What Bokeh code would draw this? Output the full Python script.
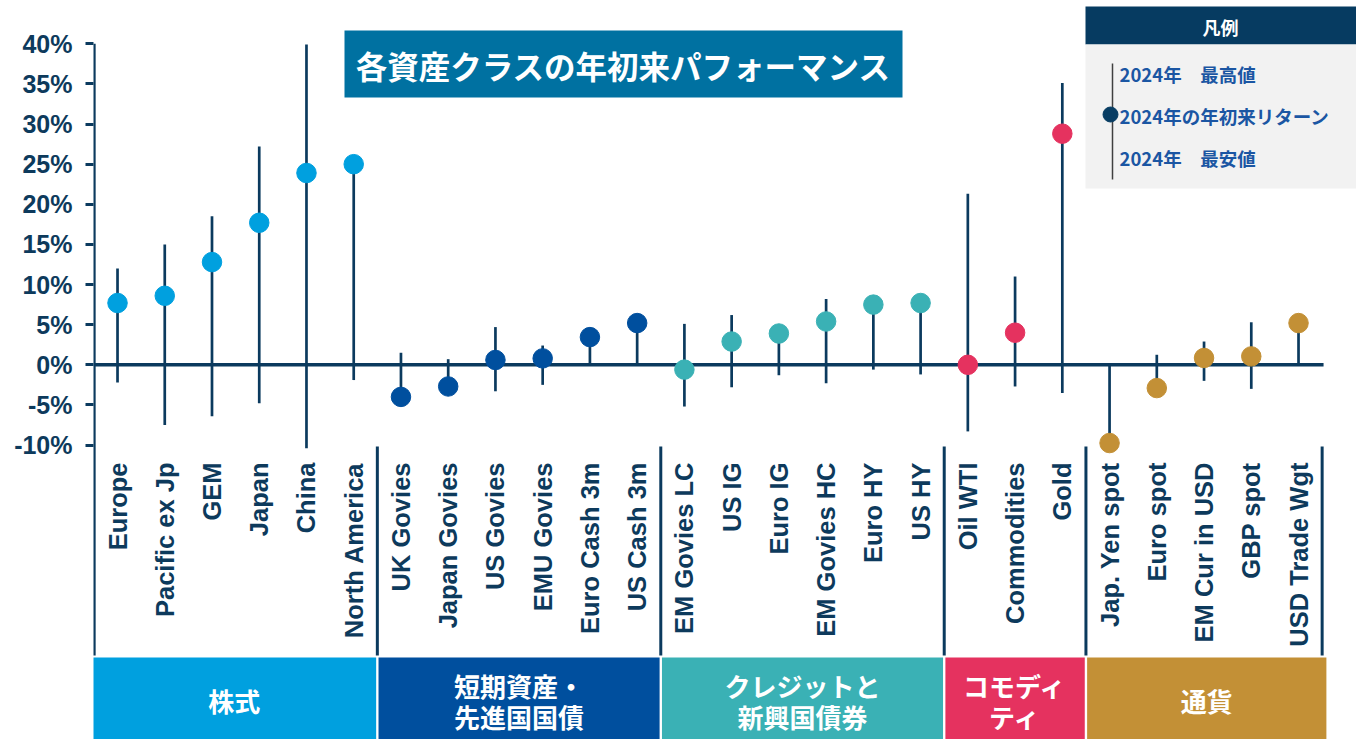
import numpy as np
from bokeh.plotting import figure
from bokeh.models import Range1d, FixedTicker, PrintfTickFormatter, ColumnDataSource
from bokeh.core.properties import value
from bokeh.embed import file_html
from bokeh.resources import INLINE

# ---------------- data ----------------
categories = ["Europe", "Pacific ex Jp", "GEM", "Japan", "China", "North America",
              "UK Govies", "Japan Govies", "US Govies", "EMU Govies", "Euro Cash 3m", "US Cash 3m",
              "EM Govies LC", "US IG", "Euro IG", "EM Govies HC", "Euro HY", "US HY",
              "Oil WTI", "Commodities", "Gold",
              "Jap. Yen spot", "Euro spot", "EM Cur in USD", "GBP spot", "USD Trade Wgt"]
ytd = [7.7, 8.6, 12.8, 17.7, 23.9, 25.0,
       -4.0, -2.7, 0.6, 0.8, 3.45, 5.2,
       -0.6, 2.9, 3.9, 5.4, 7.5, 7.7,
       0.0, 4.0, 28.8,
       -9.75, -2.9, 0.85, 1.05, 5.2]
high = [12.0, 15.0, 18.5, 27.2, 39.9, 25.0,
        1.5, 0.7, 4.7, 2.4, 3.45, 5.2,
        5.1, 6.2, 3.9, 8.2, 7.5, 7.7,
        21.3, 11.0, 35.1,
        0.2, 1.25, 2.9, 5.3, 5.2]
low = [-2.2, -7.5, -6.4, -4.8, -10.4, -1.9,
       -4.0, -2.7, -3.3, -2.5, 0.0, 0.0,
       -5.2, -2.8, -1.3, -2.3, -0.6, -1.2,
       -8.3, -2.7, -3.5,
       -9.75, -2.9, -2.0, -3.0, 0.0]
group_names = ["株式", "短期資産・\n先進国国債", "クレジットと\n新興国債券", "コモディ\nティ", "通貨"]
group_sizes = [6, 6, 6, 3, 5]
group_colors = ["#00A0DF", "#004F9E", "#3AB1B5", "#E5325F", "#C39036"]
y_ticks = [-10, -5, 0, 5, 10, 15, 20, 25, 30, 35, 40]
title_text = "各資産クラスの年初来パフォーマンス"
legend_title = "凡例"
legend_items = ["2024年　最高値", "2024年の年初来リターン", "2024年　最安値"]

# ---------------- layout helpers (page pixels -> data) ----------------
W, H = 1356, 739
LEFT = 93
X0_PX, STEP = 93.4, 47.24
Y0_PX, PX_PER = 364.3, 8.025


def dx(px):
    return (px - X0_PX) / STEP - 0.5


def dy(py):
    return (Y0_PX - py) / PX_PER


NAVY = "#0B3A5E"
LABEL = "#0D3A5C"

p = figure(width=W, height=H, output_backend="svg", toolbar_location=None,
           x_range=Range1d(dx(LEFT), dx(W)), y_range=Range1d(dy(H), dy(0)),
           min_border_left=LEFT, min_border_right=0, min_border_top=0, min_border_bottom=0)
p.xaxis.visible = False
p.xgrid.visible = False
p.ygrid.visible = False
p.outline_line_color = None
p.background_fill_color = "white"

ax = p.yaxis[0]
ax.ticker = FixedTicker(ticks=y_ticks)
ax.formatter = PrintfTickFormatter(format="%d%%")
ax.axis_line_alpha = 0
ax.major_tick_out = 8
ax.major_tick_in = 0
ax.major_tick_line_width = 3
ax.major_tick_line_color = NAVY
ax.minor_tick_line_color = None
ax.major_label_standoff = 13
ax.major_label_text_font = "Liberation Sans"
ax.major_label_text_font_style = "bold"
ax.major_label_text_font_size = "25px"
ax.major_label_text_color = LABEL

n = len(categories)
idx = np.arange(n)
colors = []
for c, s in zip(group_colors, group_sizes):
    colors += [c] * s

# group boundaries
bounds = np.concatenate([[0], np.cumsum(group_sizes)]) - 0.5

# axis line, separators
p.segment(x0=[-0.5], y0=[max(y_ticks)], x1=[-0.5], y1=[dy(655)], line_color=NAVY, line_width=3.5)
p.segment(x0=bounds[1:], y0=[dy(446)] * (len(bounds) - 1), x1=bounds[1:], y1=[dy(655)] * (len(bounds) - 1),
          line_color=NAVY, line_width=3)

# zero line
p.segment(x0=[-0.5], y0=[0], x1=[bounds[-1] + 0.03], y1=[0], line_color=NAVY, line_width=3.5)

src = ColumnDataSource(dict(x=idx, ytd=ytd, high=high, low=low, color=colors, cat=categories))
p.segment(x0="x", y0="low", x1="x", y1="high", source=src, line_color=NAVY, line_width=2.7)
p.scatter(x="x", y="ytd", source=src, size=19.5, fill_color="color", line_color="color")

# category labels
p.text(x="x", y=dy(462), text="cat", source=src, angle=np.pi / 2, text_align="right",
       text_baseline="middle", text_font=value("Liberation Sans"), text_font_style="bold",
       text_font_size="25.5px", text_color=LABEL)

# group boxes
gl = bounds[:-1] + 0.025
gr = bounds[1:] - 0.025
gl[0] = bounds[0] - 0.03
gr[-1] = bounds[-1] + 0.09
p.quad(left=gl, right=gr, bottom=dy(760), top=dy(657), fill_color=group_colors, line_color=None)

gx, gy, gt = [], [], []
for name, l, r in zip(group_names, gl, gr):
    lines = name.split("\n")
    if len(lines) == 1:
        ys = [700]
    else:
        ys = [685, 716]
    for t, yy in zip(lines, ys):
        gx.append((l + r) / 2)
        gy.append(dy(yy))
        gt.append(t)
p.text(x=gx, y=gy, text=gt, text_align="center", text_baseline="middle",
       text_font=value("Noto Sans CJK JP"), text_font_style="bold",
       text_font_size="26px", text_color="white")

# title box
p.quad(left=[dx(344)], right=[dx(902)], bottom=[dy(97)], top=[dy(30)], fill_color="#0071A1", line_color=None)
p.text(x=[dx(623)], y=[dy(64)], text=[title_text], text_align="center", text_baseline="middle",
       text_font=value("Noto Sans CJK JP"), text_font_style="bold", text_font_size="31.5px",
       text_color="white")

# legend box
p.quad(left=[dx(1085)], right=[dx(1370)], bottom=[dy(44)], top=[dy(6)], fill_color="#063B61", line_color=None)
p.quad(left=[dx(1085)], right=[dx(1370)], bottom=[dy(188)], top=[dy(44)], fill_color="#F2F2F2", line_color=None)
p.text(x=[dx(1220)], y=[dy(26)], text=[legend_title], text_align="center", text_baseline="middle",
       text_font=value("Noto Sans CJK JP"), text_font_style="bold", text_font_size="18px",
       text_color="white")
p.segment(x0=[dx(1112)], y0=[dy(63)], x1=[dx(1112)], y1=[dy(179)], line_color="#404040", line_width=1.5)
p.scatter(x=[dx(1110)], y=[dy(114)], size=15, fill_color="#083D63", line_color="#083D63")
p.text(x=[dx(1119)] * 3, y=[dy(73), dy(115), dy(157)], text=legend_items, text_align="left",
       text_baseline="middle", text_font=value("Noto Sans CJK JP"), text_font_style="bold",
       text_font_size="18.5px", text_color="#1B56A3")

open("out.html", "w").write(file_html(p, INLINE))
